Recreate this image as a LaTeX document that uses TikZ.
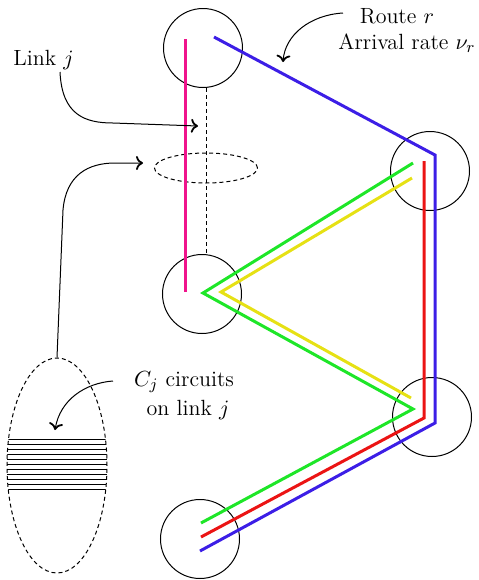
\documentclass[tikz,border=0pt]{standalone}
\usetikzlibrary{calc,shapes.geometric,arrows.meta}
\definecolor{rblue}{RGB}{60,30,230}
\definecolor{rpink}{RGB}{240,20,140}
\definecolor{rred}{RGB}{235,20,20}
\definecolor{rgreen}{RGB}{30,230,40}
\definecolor{ryellow}{RGB}{230,225,20}
\begin{document}
\begin{tikzpicture}[x=0.5pt,y=-0.5pt,
  nodecirc/.style={circle,draw,line width=0.5pt,minimum size=39.5pt,inner sep=0pt},
  route/.style={line width=1.5pt},
  fine dash/.style={dash pattern=on 2pt off 1.5pt,line width=0.5pt},
  pointer/.style={-{To[length=3.5pt,width=7pt,line width=0.9pt]},line width=0.5pt},
  lbl/.style={anchor=base,inner sep=0pt,font=\fontsize{11}{13}\selectfont}]
\useasboundingbox (0,0) rectangle (478,580);
% nodes
\node[nodecirc] (n1) at (203,48) {};
\node[nodecirc] (n2) at (430,171) {};
\node[nodecirc] (n3) at (202,294) {};
\node[nodecirc] (n4) at (432,417) {};
\node[nodecirc] (n5) at (200,539) {};
% link j (dashed)
\draw[fine dash] (n1.south -| 206,0) -- (n3.north -| 206,0);
\node[draw,fine dash,ellipse,minimum width=51.5pt,minimum height=15pt,inner sep=0pt] (lk) at (206,168) {};
% routes
\draw[route,rpink] (185,39) -- (185,292);
\draw[route,rblue] (214,37) -- (435,155) -- (435,423) -- (200,551);
\draw[route,rred] (424,161) -- (424,418) -- (201,537);
\draw[route,rgreen] (413,163) -- (203,293) -- (413,409) -- (201,523);
\draw[route,ryellow] (412,178) -- (221,292) -- (411,398);
% circuits ellipse
\node[draw,fine dash,ellipse,minimum width=50pt,minimum height=107.5pt,inner sep=0pt] (cj) at (57,465.5) {};
\begin{scope}
\clip (57,465.5) ellipse [x radius=50, y radius=107.5];
\foreach \yy in {439,444,...,489} \draw[line width=0.5pt] (0,\yy) -- (120,\yy);
\end{scope}
% labels
\node[lbl] (tlink) at (43.5,65) {Link $j$};
\node[lbl] (troute) at (397,23) {Route $r$};
\node[lbl] (trate) at (407,49) {Arrival rate $\nu_r$};
\node[lbl] (tc1) at (184,386) {$C_j$ circuits};
\node[lbl] (tc2) at (188,415) {on link $j$};
% pointers
\draw[pointer] (60,72) .. controls (62,115) and (85,123) .. (113,123) -- (198,126);
\draw[pointer] (cj.north) -- (63,210) .. controls (66,175) and (88,163) .. (115,163) -- (143,163);
\draw[pointer] (343,13) .. controls (310,15) and (285,35) .. (283,62);
\draw[pointer] (113,381) .. controls (85,383) and (60,400) .. (55,430);
\end{tikzpicture}
\end{document}
